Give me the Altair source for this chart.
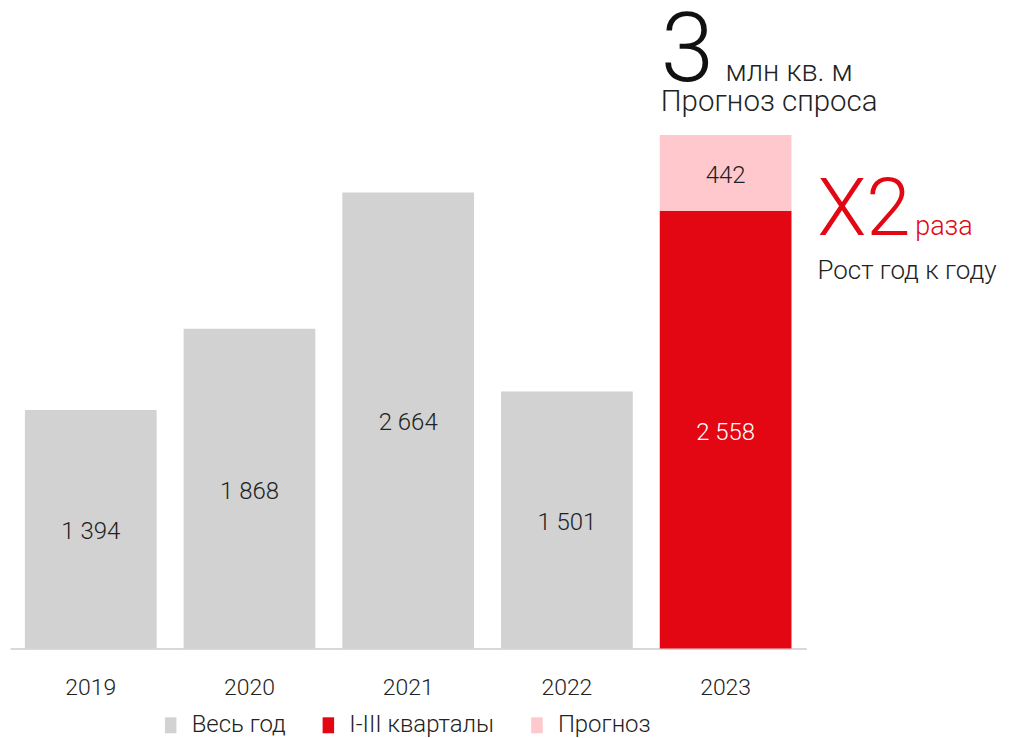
import altair as alt
import pandas as pd

# ---- data ----
years = ["2019", "2020", "2021", "2022", "2023", "2023"]
categories = ["Весь год", "Весь год", "Весь год", "Весь год", "I-III кварталы", "Прогноз"]
values = [1394, 1868, 2664, 1501, 2558, 442]
value_labels = ["1 394", "1 868", "2 664", "1 501", "2 558", "442"]
stack_order = [0, 0, 0, 0, 0, 1]

legend_domain = ["Весь год", "I-III кварталы", "Прогноз"]
legend_colors = ["#d1d2d1", "#e30613", "#ffc8cc"]

ann_texts = ["3", "млн кв. м", "Прогноз спроса", "X2", "раза", "Рост год к году"]
ann_y = [3318, 3318, 3143, 2414, 2414, 2157]
ann_dx = [-65, 0, -65, 92, 190, 92]
ann_size = [96, 29, 29.5, 80, 27, 26]
ann_color = ["#111111", "#222222", "#222222", "#e30613", "#e30613", "#222222"]

FONT = "Roboto"

df = pd.DataFrame({
    "year": years, "cat": categories, "value": values,
    "label": value_labels, "ord": stack_order,
})

x_enc = alt.X(
    "year:N",
    scale=alt.Scale(paddingInner=0.17, paddingOuter=0.094),
    axis=alt.Axis(title=None, labelAngle=0, ticks=False, domainColor="#cccccc",
                  domainWidth=1.5, labelFontSize=23, labelPadding=28,
                  labelColor="#222222", labelFont=FONT, labelFontWeight=300),
)
y_scale = alt.Scale(domain=[0, 3738], nice=False)

bars = alt.Chart(df).mark_bar().encode(
    x=x_enc,
    y=alt.Y("value:Q", stack="zero", scale=y_scale, axis=None),
    color=alt.Color(
        "cat:N",
        scale=alt.Scale(domain=legend_domain, range=legend_colors),
        sort=legend_domain,
        legend=alt.Legend(
            title=None, orient="none", direction="horizontal",
            legendX=149, legendY=706,
            symbolType="M-0.72,-1H0.72V1H-0.72Z", symbolSize=256,
            symbolStrokeWidth=0, labelFontSize=24, labelFont=FONT,
            labelFontWeight=300, labelColor="#222222", columnPadding=30,
            labelOffset=9, symbolOpacity=1,
        ),
    ),
    order=alt.Order("ord:Q"),
)

labels = alt.Chart(df).transform_stack(
    stack="value", groupby=["year"], as_=["v0", "v1"],
    sort=[alt.SortField("ord", order="ascending")],
).transform_calculate(
    mid="(datum.v0 + datum.v1) / 2",
    tc="datum.cat == 'I-III кварталы' ? '#ffffff' : '#222222'",
).mark_text(fontSize=24, font=FONT, fontWeight=300, baseline="middle", dy=3).encode(
    x=alt.X("year:N"),
    y=alt.Y("mid:Q", scale=y_scale),
    text="label:N",
    color=alt.Color("tc:N", scale=None),
)

layers = [bars, labels]
for t, yv, dx, fs, col in zip(ann_texts, ann_y, ann_dx, ann_size, ann_color):
    adf = pd.DataFrame({"year": ["2023"], "y": [yv], "t": [t]})
    layers.append(
        alt.Chart(adf).mark_text(
            align="left", baseline="alphabetic", dx=dx, fontSize=fs,
            font=FONT, fontWeight=300, color=col,
        ).encode(x=alt.X("year:N"), y=alt.Y("y:Q", scale=y_scale), text="t:N")
    )

chart = alt.layer(*layers).properties(
    width=798, height=641,
    autosize=alt.AutoSizeParams(type="none"),
    padding={"left": 2, "top": 0, "right": 195, "bottom": 88},
).configure_view(stroke=None)

chart.save("out.html", embed_options={"renderer": "svg", "actions": False})
